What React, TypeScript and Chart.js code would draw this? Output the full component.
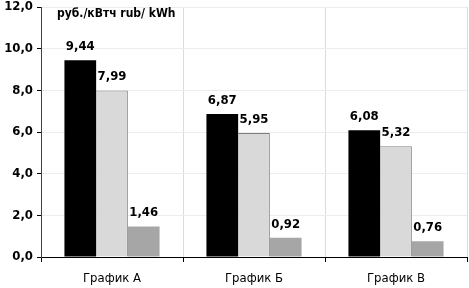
import React, { useEffect, useRef } from "react";
import { Chart, registerables } from "chart.js";

Chart.register(...registerables);

const categories = ["График А", "График Б", "График В"];
const seriesBlack = [9.44, 6.87, 6.08];
const seriesLight = [7.99, 5.95, 5.32];
const seriesDark = [1.46, 0.92, 0.76];
const unitTitle = "руб./кВтч rub/ kWh";

const FONT = "'Liberation Sans Narrow', 'DejaVu Sans Condensed', 'Arial Narrow', sans-serif";

const fmt = (v: number, d: number) => v.toFixed(d).replace(".", ",");

const labelPlugin = {
  id: "valueLabels",
  afterDatasetsDraw(chart: any) {
    const ctx = chart.ctx;
    ctx.save();
    ctx.font = `bold 13px ${FONT}`;
    ctx.fillStyle = "#000";
    ctx.textAlign = "center";
    ctx.textBaseline = "bottom";
    chart.data.datasets.forEach((ds: any, i: number) => {
      const meta = chart.getDatasetMeta(i);
      meta.data.forEach((bar: any, j: number) => {
        ctx.fillText(fmt(ds.data[j], 2), bar.x, bar.y - 7);
      });
    });
    const a = chart.chartArea;
    ctx.textAlign = "left";
    ctx.textBaseline = "middle";
    ctx.font = `bold 12px ${FONT}`;
    ctx.fillText(unitTitle, a.left + 16, a.top + 7);
    ctx.restore();
  },
};

export default function App() {
  const ref = useRef<HTMLCanvasElement>(null);
  useEffect(() => {
    document.body.style.margin = "0";
    const chart = new Chart(ref.current!, {
      type: "bar",
      data: {
        labels: categories,
        datasets: [
          { data: seriesBlack, backgroundColor: "#000000", borderColor: "#000000", borderWidth: 0 },
          { data: seriesLight, backgroundColor: "#d9d9d9", borderColor: "#808080", borderWidth: { top: 1, right: 1, left: 0, bottom: 0 } as any },
          { data: seriesDark, backgroundColor: "#a6a6a6", borderColor: "#a6a6a6", borderWidth: 0 },
        ],
      },
      options: {
        animation: false,
        responsive: false,
        maintainAspectRatio: false,
        layout: { padding: { top: 0, right: 2, left: 0, bottom: 0 } },
        plugins: { legend: { display: false }, tooltip: { enabled: false }, title: { display: false } },
        datasets: { bar: { categoryPercentage: 0.67, barPercentage: 1.0 } },
        scales: {
          x: {
            grid: { offset: true, color: "#dcdcdc", tickColor: "#000", tickLength: 5, drawTicks: true },
            border: { color: "#000", width: 1 },
            ticks: { color: "#000", font: { family: FONT, size: 13 }, padding: 9 },
            afterFit: (s: any) => { s.height = 31; },
          },
          y: {
            min: 0,
            max: 12,
            ticks: {
              stepSize: 2,
              color: "#000",
              font: { family: FONT, size: 13, weight: "bold", lineHeight: 1 },
              padding: 4,
              callback: (v: any) => fmt(Number(v), 1),
            },
            grid: { color: "#ececec", tickColor: "#000", tickLength: 4 },
            border: { color: "#404040", width: 1 },
            afterFit: (s: any) => { s.width = 41; s.paddingTop = 7; s.paddingBottom = 0; },
          },
        },
      },
      plugins: [labelPlugin],
    });
    return () => chart.destroy();
  }, []);
  return (
    <div style={{ width: 469, height: 288 }}>
      <canvas ref={ref} width={469} height={288} style={{ width: 469, height: 288, display: "block" }} />
    </div>
  );
}
